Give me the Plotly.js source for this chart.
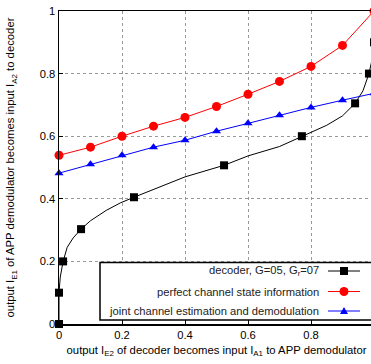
<!DOCTYPE html>
<html>
<head>
<meta charset="utf-8">
<script src="https://cdn.plot.ly/plotly-3.0.1.min.js"></script>
<style>
html, body { margin: 0; padding: 0; overflow: hidden; background: #fff; }
#chart { width: 375px; height: 364px; }
</style>
</head>
<body>
<div id="chart"></div>
<script>
// Decoder transfer curve (dense trace) and its marker points
var decoderX = [0, 0, 0.004, 0.013, 0.026, 0.045, 0.07, 0.1, 0.15, 0.195, 0.238, 0.3, 0.4, 0.524, 0.6, 0.7, 0.771, 0.85, 0.9, 0.94, 0.965, 0.984, 0.995, 1.0];
var decoderY = [0, 0.1, 0.15, 0.2, 0.245, 0.275, 0.303, 0.33, 0.363, 0.387, 0.405, 0.43, 0.47, 0.507, 0.537, 0.567, 0.6, 0.635, 0.665, 0.705, 0.745, 0.8, 0.85, 0.9];
var decoderMarkX = [0, 0, 0.013, 0.07, 0.238, 0.524, 0.771, 0.94, 0.984, 1.0];
var decoderMarkY = [0, 0.1, 0.2, 0.303, 0.405, 0.507, 0.6, 0.705, 0.8, 0.9];

// Perfect channel state information
var pcsiX = [0, 0.1, 0.2, 0.3, 0.4, 0.5, 0.6, 0.7, 0.8, 0.9, 1.0];
var pcsiY = [0.539, 0.565, 0.6, 0.632, 0.66, 0.695, 0.734, 0.775, 0.823, 0.89, 1.0];

// Joint channel estimation and demodulation
var jcedX = [0, 0.1, 0.2, 0.3, 0.4, 0.5, 0.6, 0.7, 0.8, 0.9, 1.0];
var jcedY = [0.482, 0.51, 0.539, 0.565, 0.587, 0.616, 0.641, 0.667, 0.692, 0.715, 0.737];

var legendLabels = ['decoder, G=05, G<sub>r</sub>=07', 'perfect channel state information', 'joint channel estimation and demodulation'];
var xTitle = 'output I<sub>E2</sub> of decoder becomes input I<sub>A1</sub> to APP demodulator';
var yTitle = 'output I<sub>E1</sub> of APP demodulator becomes input I<sub>A2</sub> to decoder';

var FONT = 'Liberation Sans, Arial, sans-serif';

var traces = [
  {x: pcsiX, y: pcsiY, mode: 'lines+markers', line: {color: '#ff0000', width: 1},
   marker: {symbol: 'circle', size: 9, color: '#ff0000'}, cliponaxis: false, showlegend: false},
  {x: jcedX, y: jcedY, mode: 'lines+markers', line: {color: '#0000ff', width: 1},
   marker: {symbol: 'triangle-up', size: 8, color: '#0000ff'}, cliponaxis: false, showlegend: false},
  {x: decoderX, y: decoderY, mode: 'lines', line: {color: '#000000', width: 1}, showlegend: false},
  {x: decoderMarkX, y: decoderMarkY, mode: 'markers',
   marker: {symbol: 'square', size: 8, color: '#000000'}, cliponaxis: false, showlegend: false}
];

// pixel -> paper helpers for the hand-made legend box
var L = 59, T = 11, PW = 315, PH = 313;
function px(x) { return (x - L) / PW; }
function py(y) { return (T + PH - y) / PH; }

var rowY = [271, 291.5, 311];
var colors = ['#000000', '#ff0000', '#0000ff'];
var shapes = [
  {type: 'rect', xref: 'paper', yref: 'paper', x0: px(100), x1: px(390), y0: py(320), y1: py(262.5),
   fillcolor: '#ffffff', line: {color: '#000000', width: 1.5}, layer: 'above'}
];
var annotations = [];
for (var i = 0; i < 3; i++) {
  shapes.push({type: 'line', xref: 'paper', yref: 'paper', x0: px(328), x1: px(360), y0: py(rowY[i]), y1: py(rowY[i]),
    line: {color: colors[i], width: 1}, layer: 'above'});
  annotations.push({xref: 'paper', yref: 'paper', x: px(321), y: py(rowY[i]), xanchor: 'right', yanchor: 'middle',
    text: legendLabels[i], showarrow: false, font: {family: FONT, size: 11.2, color: '#222'}});
}
// legend symbols
shapes.push({type: 'rect', xref: 'paper', yref: 'paper', x0: px(340), x1: px(348), y0: py(rowY[0] + 4), y1: py(rowY[0] - 4),
  fillcolor: '#000', line: {width: 0}, layer: 'above'});
shapes.push({type: 'circle', xref: 'paper', yref: 'paper', x0: px(339.5), x1: px(348.5), y0: py(rowY[1] + 4.5), y1: py(rowY[1] - 4.5),
  fillcolor: '#ff0000', line: {width: 0}, layer: 'above'});
shapes.push({type: 'path', xref: 'paper', yref: 'paper',
  path: 'M ' + px(344) + ' ' + py(rowY[2] - 4) + ' L ' + px(348) + ' ' + py(rowY[2] + 3) + ' L ' + px(340) + ' ' + py(rowY[2] + 3) + ' Z',
  fillcolor: '#0000ff', line: {width: 0}, layer: 'above'});

var layout = {
  width: 375, height: 364,
  margin: {l: L, r: 375 - L - PW, t: T, b: 364 - T - PH},
  paper_bgcolor: '#ffffff', plot_bgcolor: '#ffffff',
  showlegend: false,
  font: {family: FONT, size: 11, color: '#000'},
  xaxis: {
    range: [0, 1], tick0: 0, dtick: 0.2, showgrid: true, gridcolor: '#999', griddash: 'dot', gridwidth: 1,
    zeroline: false, showline: true, linecolor: '#000', linewidth: 1.5, mirror: true,
    ticks: 'inside', ticklen: 4, tickcolor: '#000',
    tickfont: {family: FONT, size: 11.2, color: '#000'},
    title: {text: xTitle, font: {family: FONT, size: 11.3, color: '#000'}, standoff: 6}
  },
  yaxis: {
    range: [0, 1], tick0: 0, dtick: 0.2, showgrid: true, gridcolor: '#999', griddash: 'dot', gridwidth: 1,
    zeroline: false, showline: true, linecolor: '#000', linewidth: 1.5, mirror: true,
    ticks: 'inside', ticklen: 4, tickcolor: '#000',
    tickfont: {family: FONT, size: 11.2, color: '#000'},
    title: {text: yTitle, font: {family: FONT, size: 11.3, color: '#000'}, standoff: 22}
  },
  shapes: shapes,
  annotations: annotations
};

Plotly.newPlot('chart', traces, layout, {displayModeBar: false, staticPlot: true});
</script>
</body>
</html>
